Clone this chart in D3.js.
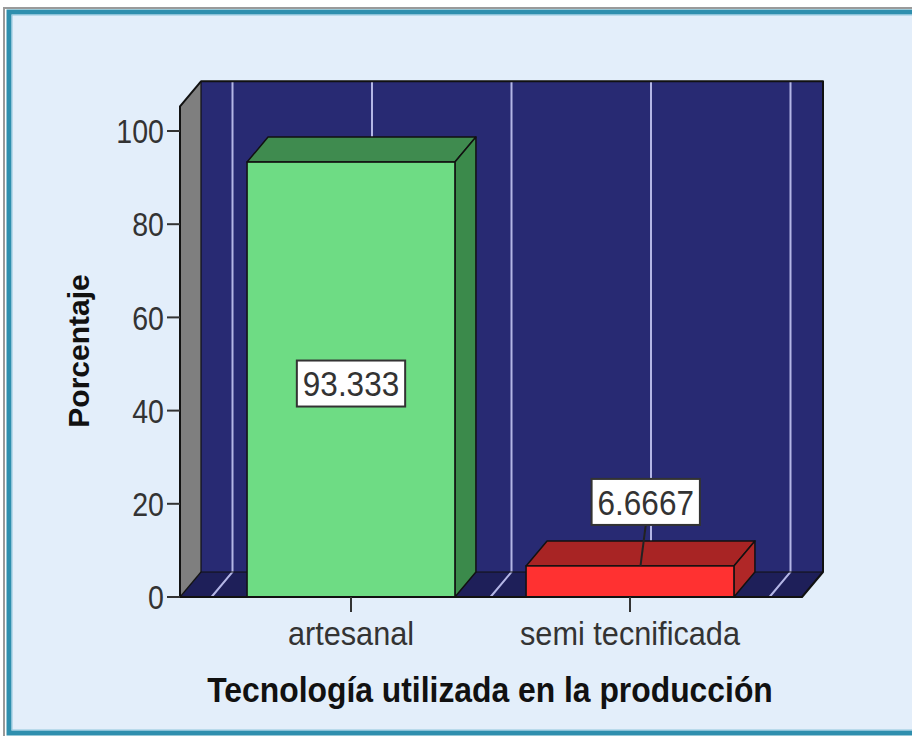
<!DOCTYPE html>
<html><head><meta charset="utf-8">
<script src="https://cdn.jsdelivr.net/npm/d3@7"></script>
<style>body{margin:0;background:#fff}svg{display:block}</style></head>
<body><svg id="c" width="912" height="736"></svg>
<script>
// ---- data ----
const categories = ["artesanal", "semi tecnificada"];
const values = [93.333, 6.6667];
const valueLabels = ["93.333", "6.6667"];
const yTicks = [0, 20, 40, 60, 80, 100];
const xTitle = "Tecnología utilizada en la producción";
const yTitle = "Porcentaje";
const frontColors = ["#6edc84", "#ff3131"];
const topColors = ["#3f8b4f", "#a82424"];
const sideColors = ["#3b8a4b", "#b02727"];

// ---- layout ----
const svg = d3.select("#c");
const FONT = "'Liberation Sans', Arial, sans-serif";
const frontL = 180, frontR = 802;
const dx = 21, dy = -25;
const wallTopVal = 105.3;

const y = d3.scaleLinear().domain([0, 100]).range([597, 131]);
const x = d3.scaleBand().domain(categories).range([211.5, 769.5]).padding(0);
const bw = x.bandwidth();
const barW = bw * 0.745;

// frame
svg.append("rect").attr("x", 0).attr("y", 0).attr("width", 912).attr("height", 736).attr("fill", "#ffffff");
svg.append("rect").attr("x", 4).attr("y", 8).attr("width", 940).attr("height", 760)
  .attr("fill", "none").attr("stroke", "#9a9a9a").attr("stroke-width", 2);
svg.append("rect").attr("x", 9).attr("y", 12).attr("width", 930).attr("height", 721)
  .attr("fill", "#e3eefa").attr("stroke", "#2f8fae").attr("stroke-width", 5);
svg.append("rect").attr("x", 12).attr("y", 15).attr("width", 924).attr("height", 715)
  .attr("fill", "none").attr("stroke", "#8fc6dc").attr("stroke-width", 1);

const y0 = y(0), yTop = y(wallTopVal);
const g = svg.append("g");

// back wall
g.append("rect").attr("x", frontL + dx).attr("y", yTop + dy)
  .attr("width", frontR - frontL).attr("height", y0 - yTop)
  .attr("fill", "#282a73");
// floor
g.append("path").attr("d", `M${frontL},${y0}L${frontR},${y0}L${frontR + dx},${y0 + dy}L${frontL + dx},${y0 + dy}Z`)
  .attr("fill", "#1e1f59");
// side wall
g.append("path").attr("d", `M${frontL},${y0}L${frontL},${yTop}L${frontL + dx},${yTop + dy}L${frontL + dx},${y0 + dy}Z`)
  .attr("fill", "#7f7f7f");

// grid lines (category boundaries and centers)
const gridX = [];
categories.forEach(c => { gridX.push(x(c)); gridX.push(x(c) + bw / 2); });
gridX.push(x(categories[categories.length - 1]) + bw);
gridX.forEach(gx => {
  g.append("path").attr("d", `M${gx + dx},${yTop + dy}L${gx + dx},${y0 + dy}L${gx},${y0}`)
    .attr("fill", "none").attr("stroke", "#b4b6e6").attr("stroke-width", 2);
});

// wall outlines
const ol = "#111";
g.append("path").attr("d", `M${frontL},${y0}L${frontL},${yTop}L${frontL + dx},${yTop + dy}L${frontR + dx},${yTop + dy}L${frontR + dx},${y0 + dy}L${frontR},${y0}Z`)
  .attr("fill", "none").attr("stroke", ol).attr("stroke-width", 2).attr("stroke-linejoin", "round");
g.append("path").attr("d", `M${frontL + dx},${yTop + dy}L${frontL + dx},${y0 + dy}L${frontR + dx},${y0 + dy}`)
  .attr("fill", "none").attr("stroke", ol).attr("stroke-width", 1.2);
g.append("path").attr("d", `M${frontL},${y0}L${frontL + dx},${y0 + dy}`)
  .attr("fill", "none").attr("stroke", ol).attr("stroke-width", 1.2);

// bars
categories.forEach((c, i) => {
  const cx = x(c) + bw / 2;
  const l = cx - barW / 2, r = cx + barW / 2;
  const t = y(values[i]);
  const bg = g.append("g");
  bg.append("path").attr("d", `M${l},${t}L${r},${t}L${r + dx},${t + dy}L${l + dx},${t + dy}Z`)
    .attr("fill", topColors[i]).attr("stroke", ol).attr("stroke-width", 1.5).attr("stroke-linejoin", "round");
  bg.append("path").attr("d", `M${r},${t}L${r + dx},${t + dy}L${r + dx},${y0 + dy}L${r},${y0}Z`)
    .attr("fill", sideColors[i]).attr("stroke", ol).attr("stroke-width", 1.5).attr("stroke-linejoin", "round");
  bg.append("rect").attr("x", l).attr("y", t).attr("width", barW).attr("height", y0 - t)
    .attr("fill", frontColors[i]).attr("stroke", ol).attr("stroke-width", 1.5);
});

// front floor edge (x axis line)
g.append("line").attr("x1", frontL).attr("x2", frontR).attr("y1", y0).attr("y2", y0)
  .attr("stroke", ol).attr("stroke-width", 2);

// value labels
categories.forEach((c, i) => {
  const cx = x(c) + bw / 2;
  const t = y(values[i]);
  const inside = (y0 - t) > 100;
  const lx = inside ? cx : cx + dx * 0.75;
  const ly = inside ? (t + y0) / 2 + 4 : t - 64;
  const fs = 35, sx = 0.9;
  const lg = svg.append("g");
  const rect = lg.append("rect");
  const txt = lg.append("text")
    .attr("transform", `translate(${lx},${ly + fs * 0.36}) scale(${sx},1)`)
    .attr("text-anchor", "middle").attr("font-family", FONT).attr("font-size", fs)
    .attr("fill", "#333").text(valueLabels[i]);
  const w = txt.node().getComputedTextLength() * sx + 12;
  const h = 46;
  rect.attr("x", lx - w / 2).attr("y", ly - h / 2).attr("width", w).attr("height", h)
    .attr("fill", "#fff").attr("stroke", "#333").attr("stroke-width", 2);
  if (!inside) {
    lg.insert("line", "rect").attr("x1", lx).attr("y1", ly + h / 2).attr("x2", cx + dx / 2).attr("y2", t)
      .attr("stroke", "#222").attr("stroke-width", 2);
  }
});

// y axis ticks and labels
const ya = svg.append("g");
yTicks.forEach(v => {
  ya.append("line").attr("x1", 167).attr("x2", frontL).attr("y1", y(v)).attr("y2", y(v))
    .attr("stroke", "#333").attr("stroke-width", 2);
  const fs = 34, sx = 0.84;
  ya.append("text").attr("transform", `translate(164,${y(v) + fs * 0.36}) scale(${sx},1)`)
    .attr("text-anchor", "end").attr("font-family", FONT).attr("font-size", fs)
    .attr("fill", "#333").text(v);
});

// x axis ticks and labels
const xa = svg.append("g");
categories.forEach(c => {
  const cx = x(c) + bw / 2;
  xa.append("line").attr("x1", cx).attr("x2", cx).attr("y1", y0).attr("y2", y0 + 15)
    .attr("stroke", "#333").attr("stroke-width", 2);
  const fs = 33, sx = 0.93;
  xa.append("text").attr("transform", `translate(${cx},645) scale(${sx},1)`)
    .attr("text-anchor", "middle").attr("font-family", FONT).attr("font-size", fs)
    .attr("fill", "#333").text(c);
});

// axis titles
svg.append("text").attr("transform", `translate(490,702) scale(0.91,1)`)
  .attr("text-anchor", "middle").attr("font-family", FONT).attr("font-weight", "bold")
  .attr("font-size", 35).attr("fill", "#111").text(xTitle);
svg.append("text").attr("transform", `translate(89,351) rotate(-90)`)
  .attr("text-anchor", "middle").attr("font-family", FONT).attr("font-weight", "bold")
  .attr("font-size", 30).attr("fill", "#111").text(yTitle);
</script></body></html>
